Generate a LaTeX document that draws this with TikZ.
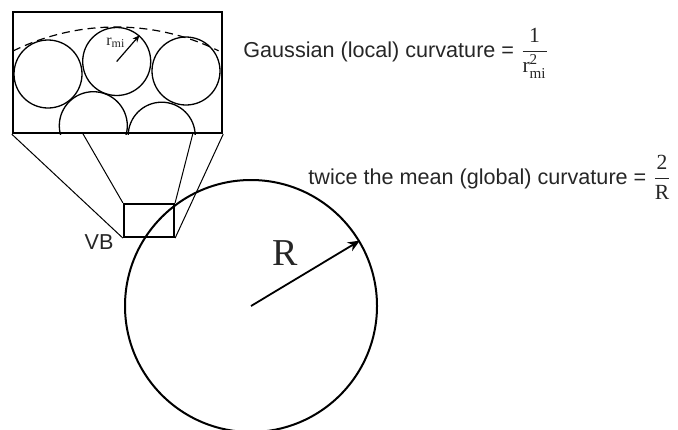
\documentclass[tikz,border=0pt]{standalone}
\usepackage{amsmath}
\usepackage{fontspec}
\setmainfont{Liberation Serif}
\setsansfont{Liberation Sans}
\usetikzlibrary{positioning,arrows.meta}

\begin{document}
\begin{tikzpicture}[
  x=0.5pt, y=0.5pt,
  txt/.style = {inner sep=0pt, font=\sffamily\fontsize{10.8}{13}\selectfont, text=black!85},
  serif/.style = {inner sep=0pt, anchor=base west, text=black!85},
  ball/.style = {circle, draw, line width=0.65pt, inner sep=0pt, minimum size=34pt},
  frame/.style = {rectangle, draw, line width=1.2pt, inner sep=0pt},
  guide/.style = {line width=0.5pt},
  radius/.style = {-{Stealth[length=6pt,width=5pt]}, line width=0.9pt},
]
  \useasboundingbox (0,0) rectangle (678,-429);

  % enlarged view of the bilayer
  \node[frame, minimum width=104.5pt, minimum height=60.5pt] (zoom) at (117.5,-72.5) {};
  \begin{scope}
    \clip (zoom.south west) rectangle (zoom.north east);
    \node[ball] (b1) at (48,-74) {};
    \node[ball] (b2) at (116.7,-61.5) {};
    \node[ball] (b3) at (186,-71) {};
    \node[ball] (b4) at (93.3,-125.7) {};
    \node[ball, minimum size=33.5pt] (b5) at (161.7,-135.7) {};
    \draw[dash pattern=on 4pt off 2.5pt, line width=0.6pt]
      (116,-260) ++(116.2:233) arc (116.2:63.9:233);
  \end{scope}
  \draw[radius, line width=0.6pt, -{Stealth[length=3.5pt,width=3pt]}] (b2.center) -- (b2.49);
  \node[serif, font=\rmfamily\fontsize{8}{9}\selectfont] (rmi) at (106,-45) {r$_{\textrm{mi}}$};

  % vesicle and the small patch
  \node[circle, draw, line width=1pt, minimum size=126pt, inner sep=0pt] (vesicle) at (251,-306) {};
  \node[frame, line width=1.1pt, minimum width=25pt, minimum height=16.5pt] (vb) at (149,-220.5) {};
  \node[txt, below left=-2pt and 4.5pt of vb.south west] (vblabel) {VB};
  \draw[radius] (vesicle.center) -- (vesicle.31);
  \node[serif, font=\rmfamily\fontsize{19}{21}\selectfont] (rlabel) at (272,-265) {R};

  % projection lines
  \coordinate (k1) at (82.5,-133);
  \coordinate (k2) at (193,-133);
  \draw[guide] (zoom.south west) -- (vb.south west);
  \draw[guide] (k1) -- (vb.north west);
  \draw[guide] (k2) -- (vb.north east);
  \draw[guide] (zoom.south east) -- (vb.south east);

  % curvatures
  \node[txt, anchor=base west] (gauss) at (243,-57)
    {Gaussian (local) curvature = $\dfrac{\textrm{1}}{\textrm{r}^{\textrm{2}}_{\textrm{mi}}}$};
  \node[txt, anchor=base west] (mean) at (308,-184)
    {twice the mean (global) curvature = $\dfrac{\textrm{2}}{\textrm{R}}$};
\end{tikzpicture}
\end{document}
